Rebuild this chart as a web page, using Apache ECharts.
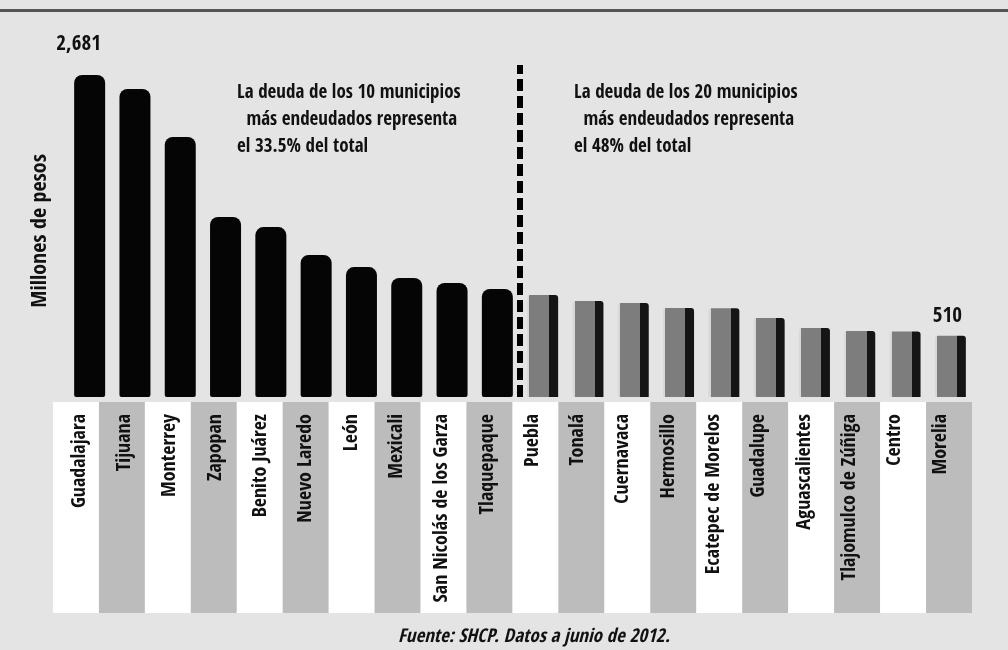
<!DOCTYPE html>
<html>
<head>
<meta charset="utf-8">
<script src="https://cdn.jsdelivr.net/npm/echarts@6/dist/echarts.min.js"></script>
<style>
  html, body { margin: 0; padding: 0; background: #e4e4e4; }
  #chart { width: 1008px; height: 650px; }
</style>
</head>
<body>
<div id="chart"></div>
<script>
// municipios mas endeudados, millones de pesos (junio 2012)
const municipios = ['Guadalajara', 'Tijuana', 'Monterrey', 'Zapopan', 'Benito Juárez', 'Nuevo Laredo',
  'León', 'Mexicali', 'San Nicolás de los Garza', 'Tlaquepaque', 'Puebla', 'Tonalá', 'Cuernavaca',
  'Hermosillo', 'Ecatepec de Morelos', 'Guadalupe', 'Aguascalientes', 'Tlajomulco de Zúñiga', 'Centro', 'Morelia']
const deuda = [2681, 2564, 2165, 1499, 1415, 1182, 1082, 991, 949, 899,
  849, 799, 783, 741, 738, 658, 575, 550, 545, 510]
const topDiez = 10 // los primeros 10 van en negro
const yMax = 2764

const notaDiez = 'La deuda de los 10 municipios\n  más endeudados representa\nel 33.5% del total'
const notaVeinte = 'La deuda de los 20 municipios\n  más endeudados representa\nel 48% del total'
const fuente = 'Fuente: SHCP. Datos a junio de 2012.'

const fuenteCond = "'Open Sans Condensed', 'Roboto Condensed', sans-serif"

const chart = echarts.init(document.getElementById('chart'))

const barraNegra = {
  color: '#050505',
  borderRadius: [8, 8, 2, 2]
}
const barraGris = {
  color: {
    type: 'linear', x: 0, y: 0, x2: 1, y2: 0,
    colorStops: [
      { offset: 0, color: '#d8d8d8' },
      { offset: 0.07, color: '#d8d8d8' },
      { offset: 0.07, color: '#7d7d7d' },
      { offset: 0.72, color: '#7d7d7d' },
      { offset: 0.72, color: '#151515' },
      { offset: 1, color: '#151515' }
    ]
  },
  borderRadius: [3, 3, 0, 0]
}

const ultimo = deuda.length - 1
const datos = deuda.map((v, i) => {
  const item = { value: v, itemStyle: i < topDiez ? barraNegra : barraGris }
  if (i === 0) {
    item.label = { show: true, distance: 20, offset: [-11, 0] }
  } else if (i === ultimo) {
    item.label = { show: true, distance: 9, offset: [-3, 0] }
  }
  return item
})

chart.setOption({
  backgroundColor: '#e4e4e4',
  animation: false,
  title: [
    {
      text: notaDiez, left: 232, top: 75,
      textStyle: { fontFamily: fuenteCond, fontSize: 19, fontWeight: 'bold', color: '#111', lineHeight: 27 }
    },
    {
      text: notaVeinte, left: 569, top: 75,
      textStyle: { fontFamily: fuenteCond, fontSize: 19, fontWeight: 'bold', color: '#111', lineHeight: 27 }
    },
    {
      text: fuente, left: 393, top: 623,
      textStyle: { fontFamily: fuenteCond, fontSize: 19, fontWeight: 'bold', fontStyle: 'italic', color: '#111' }
    }
  ],
  graphic: [
    { // linea superior
      type: 'rect', shape: { x: 0, y: 9, width: 1008, height: 3 },
      style: { fill: '#555' }
    }
  ],
  grid: [
    { left: 67, right: 35, top: 65, bottom: 253 },
    { left: 53, right: 36, top: 402, height: 211 }
  ],
  xAxis: [
    {
      type: 'category', gridIndex: 0, data: municipios, z: 3,
      axisLine: { show: false },
      axisTick: { show: false },
      axisLabel: {
        rotate: 90, margin: 17, interval: 0, verticalAlign: 'bottom',
        fontFamily: fuenteCond, fontSize: 20, fontWeight: 600, color: '#111'
      }
    },
    {
      type: 'value', gridIndex: 0, min: -0.5, max: deuda.length - 0.5, show: false
    },
    {
      type: 'category', gridIndex: 1, data: municipios, z: 0,
      axisLine: { show: false },
      axisTick: { show: false },
      axisLabel: { show: false, interval: 0 },
      splitArea: { show: true, interval: 0, areaStyle: { color: ['#ffffff', '#bcbcbc'] } }
    }
  ],
  yAxis: [
    {
      type: 'value', gridIndex: 0, min: 0, max: yMax,
      name: 'Millones de pesos', nameLocation: 'middle', nameRotate: 90, nameGap: 16,
      nameTextStyle: { fontFamily: fuenteCond, fontSize: 22, fontWeight: 'bold', color: '#111' },
      axisLine: { show: false },
      axisTick: { show: false },
      axisLabel: { show: false },
      splitLine: { show: false }
    },
    { type: 'value', gridIndex: 1, show: false }
  ],
  series: [
    {
      type: 'bar',
      xAxisIndex: 0,
      yAxisIndex: 0,
      barWidth: 31,
      data: datos,
      label: {
        show: false,
        position: 'top',
        formatter: p => p.value.toLocaleString('en-US'),
        fontFamily: fuenteCond, fontSize: 21, fontWeight: 'bold', color: '#111'
      }
    },
    { // separador entre los 10 y los 20
      type: 'line',
      xAxisIndex: 1,
      yAxisIndex: 0,
      symbol: 'none',
      z: 5,
      data: [[topDiez - 0.5, 0], [topDiez - 0.5, yMax]],
      lineStyle: { color: '#000', width: 6, type: [12, 5] }
    }
  ]
})
</script>
</body>
</html>
